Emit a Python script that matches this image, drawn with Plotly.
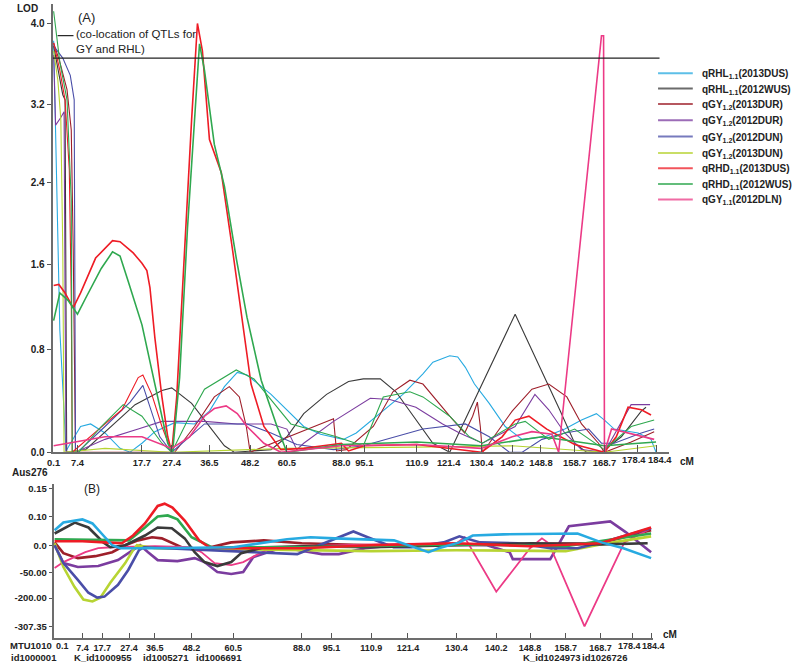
import numpy as np
import plotly.graph_objects as go

W, H = 796, 670
FONT = "Arial, Liberation Sans, sans-serif"

# ---------------- data ----------------
TICK_CM = [0.1, 7.4, 17.7, 27.4, 36.5, 48.2, 60.5, 88.0, 95.1, 110.9, 121.4,
           130.4, 140.2, 148.8, 158.7, 168.7, 178.4, 184.4]
TICK_LABELS = [f"{v:.1f}" for v in TICK_CM]
LOD_TICKS = [0.0, 0.8, 1.6, 2.4, 3.2, 4.0]
EFF_TICKS = [-307.35, -200.0, -50.0, 0.0, 0.10, 0.15]
EFF_LABELS = ["-307.35", "-200.00", "-50.00", "0.0", "0.10", "0.15"]
THRESHOLD_LOD = 3.66

SERIES = [
    ("qRHL", "1.1", "2013DUS"), ("qRHL", "1.1", "2012WUS"), ("qGY", "1.2", "2013DUR"),
    ("qGY", "1.2", "2012DUR"), ("qGY", "1.2", "2012DUN"), ("qGY", "1.2", "2013DUN"),
    ("qRHD", "1.1", "2013DUS"), ("qRHD", "1.1", "2012WUS"), ("qGY", "1.1", "2012DLN"),
]

# Panel A: LOD profiles
lb_a_cm = [0.1, 0.7, 1.4, 2.0, 2.9, 3.9, 5.5, 7.9, 9.5, 11.8, 14.2, 15.8, 17.7, 21.9, 28.1, 32.9, 36.5, 40.8, 44.5, 47.3,
           55.2, 60.5, 69.0, 77.5, 88.6, 92.6, 98.7, 106.7, 112.9, 116.2, 121.7, 123.9, 126.0, 128.5, 132.9, 138.0, 143.2,
           150.0, 155.8, 161.0, 166.0, 168.7, 171.6, 178.7, 182.8, 184.4]
lb_a_lod = [3.83, 2.97, 1.92, 0.98, 0.51, 0.01, 0.08, 0.20, 0.22, 0.15, 0.03, 0.0, 0.07, 0.16, 0.23, 0.22, 0.32, 0.51, 0.62, 0.60,
            0.45, 0.33, 0.20, 0.14, 0.10, 0.15, 0.28, 0.45, 0.61, 0.70, 0.75, 0.74, 0.66, 0.53, 0.38, 0.20, 0.10,
            0.12, 0.18, 0.25, 0.30, 0.25, 0.18, 0.15, 0.10, 0.0]

bk_a_cm = [0.1, 1.4, 2.9, 3.6, 4.1, 8.7, 11.8, 16.6, 24.2, 27.4, 32.2, 37.1, 40.8, 43.6, 55.2, 60.5, 69.0, 80.5, 90.2, 94.8,
           99.9, 104.6, 110.6, 116.2, 121.7, 141.1, 154.3, 158.7, 162.7, 167.7, 173.7, 179.7, 181.2]
bk_a_lod = [3.78, 3.56, 3.30, 3.25, 0.0, 0.02, 0.16, 0.37, 0.48, 0.50, 0.38, 0.18, 0.05, 0.0, 0.02, 0.12, 0.30, 0.45, 0.55, 0.57,
            0.57, 0.47, 0.25, 0.07, 0.0, 1.13, 0.33, 0.07, 0.0, 0.0, 0.12, 0.32, 0.35]

mr_a_cm = [0.1, 2.0, 4.2, 5.5, 6.1, 6.8, 28.1, 32.9, 37.9, 42.2, 45.1, 47.1, 48.2, 84.0, 85.5, 89.5, 97.8, 103.7, 108.8, 112.9,
           121.7, 125.8, 128.0, 129.3, 130.1, 130.7, 132.9, 140.2, 146.1, 151.1, 156.4, 161.0, 166.7, 168.7, 176.6, 183.8]
mr_a_lod = [3.81, 3.62, 3.35, 2.94, 1.75, 0.0, 0.0, 0.20, 0.43, 0.51, 0.43, 0.20, 0.0, 0.26, 0.01, 0.02, 0.20, 0.47, 0.56, 0.53,
            0.28, 0.15, 0.28, 0.39, 0.20, 0.0, 0.07, 0.32, 0.49, 0.53, 0.43, 0.22, 0.07, 0.0, 0.08, 0.16]

pu_a_cm = [0.1, 0.7, 2.3, 3.3, 3.6, 3.9, 6.8, 11.8, 17.1, 24.2, 35.3, 44.5, 55.2, 60.5, 65.5, 69.0, 84.0, 96.9, 102.8, 110.6,
           119.4, 124.4, 130.7, 141.1, 147.0, 151.1, 155.8, 161.0, 168.7, 176.6, 182.5]
pu_a_lod = [3.69, 2.99, 3.07, 3.13, 1.28, 0.0, 0.0, 0.10, 0.18, 0.24, 0.24, 0.22, 0.22, 0.18, 0.02, 0.07, 0.24, 0.42, 0.41, 0.35,
            0.22, 0.15, 0.07, 0.20, 0.45, 0.33, 0.15, 0.02, 0.0, 0.37, 0.37]

bl_a_cm = [0.1, 2.9, 5.2, 6.4, 6.8, 7.4, 11.8, 15.8, 18.0, 20.3, 23.5, 27.4, 31.7, 35.3, 47.3, 55.2, 65.5, 84.0, 94.8, 112.9,
           126.0, 132.9, 139.3, 143.2, 149.1, 155.8, 163.4, 167.7, 171.6, 179.7, 183.8]
bl_a_lod = [3.78, 3.66, 3.49, 3.25, 0.0, 0.0, 0.20, 0.39, 0.52, 0.35, 0.12, 0.0, 0.12, 0.22, 0.22, 0.15, 0.06, 0.02, 0.05, 0.18,
            0.22, 0.12, 0.0, 0.0, 0.10, 0.15, 0.18, 0.07, 0.07, 0.15, 0.18]

yg_a_cm = [0.1, 1.4, 2.3, 2.9, 3.3, 11.8, 27.4, 60.5, 110.9, 140.2, 168.7, 184.4]
yg_a_lod = [3.73, 3.44, 3.05, 1.75, 0.0, 0.03, 0.0, 0.03, 0.04, 0.05, 0.0, 0.05]

rd_a_cm = [0.1, 1.7, 3.6, 6.1, 7.9, 10.3, 13.0, 14.2, 16.3, 17.7, 19.3, 20.3, 21.9, 24.2, 26.1, 27.4, 28.6, 30.5, 32.2, 33.6,
           34.8, 36.5, 39.9, 43.1, 45.9, 48.5, 52.8, 58.5, 69.0, 88.0, 90.2, 95.1, 110.9, 130.4, 137.0, 141.1, 145.2, 150.5,
           158.7, 168.7, 172.2, 175.7, 179.7, 182.8]
rd_a_lod = [1.40, 1.41, 1.33, 1.19, 1.33, 1.66, 1.83, 1.82, 1.71, 1.61, 1.54, 1.38, 0.91, 0.43, 0.12, 0.0, 0.43, 1.75, 3.05, 4.00,
            3.73, 2.84, 2.50, 1.75, 1.10, 0.53, 0.20, 0.02, 0.03, 0.07, 0.01, 0.05, 0.06, 0.0, 0.12, 0.25, 0.28, 0.18,
            0.06, 0.0, 0.12, 0.35, 0.33, 0.29]
rd2_a_cm = [0.1, 2.0, 3.6, 4.9, 5.5, 5.8, 11.8, 14.5, 17.1, 18.0, 20.9, 24.2, 27.4]
rd2_a_lod = [3.81, 3.54, 3.25, 2.53, 1.28, 0.0, 0.22, 0.33, 0.58, 0.60, 0.45, 0.20, 0.0]

gr_a_cm = [0.1, 2.0, 4.5, 7.4, 8.7, 11.2, 13.0, 14.2, 15.5, 17.7, 21.9, 26.1, 27.6, 29.3, 31.2, 32.9, 34.1, 35.3, 37.9, 40.8,
           44.2, 47.3, 51.9, 57.2, 60.5, 88.0, 110.9, 130.4, 149.1, 168.7, 184.4]
gr_a_lod = [1.07, 1.33, 1.26, 1.13, 1.28, 1.56, 1.72, 1.68, 1.44, 1.03, 0.53, 0.07, 0.0, 0.58, 1.95, 3.05, 3.80, 3.54, 2.79, 2.36,
            1.66, 1.10, 0.56, 0.20, 0.0, 0.06, 0.08, 0.05, 0.12, 0.05, 0.08]
gr2_a_cm = [0.1, 2.0, 4.2, 5.5, 5.8, 7.6, 11.2, 14.7, 17.7, 24.2, 27.4, 31.7, 35.3, 44.2, 49.5, 55.2, 62.5, 85.5, 92.6, 94.8,
            100.8, 108.8, 112.9, 121.7, 127.1, 130.7, 141.1, 144.1, 151.1, 158.7, 168.7, 176.6, 183.8]
gr2_a_lod = [4.12, 3.62, 3.25, 2.23, 0.0, 0.0, 0.20, 0.37, 0.28, 0.07, 0.0, 0.28, 0.49, 0.64, 0.57, 0.41, 0.22, 0.12, 0.07, 0.05,
             0.43, 0.47, 0.43, 0.28, 0.12, 0.07, 0.22, 0.24, 0.10, 0.18, 0.02, 0.20, 0.25]

pk_a_cm = [0.1, 7.4, 11.8, 17.7, 27.4, 31.7, 35.3, 37.9, 41.3, 44.5, 47.3, 52.8, 58.5, 88.0, 110.9, 130.4, 140.2, 146.1, 152.0,
           154.0, 158.7, 164.4, 167.7, 168.4, 168.7, 170.8, 175.8, 183.8]
pk_a_lod = [0.05, 0.08, 0.12, 0.12, 0.03, 0.12, 0.28, 0.34, 0.36, 0.30, 0.20, 0.07, 0.0, 0.05, 0.06, 0.03, 0.12, 0.16, 0.14,
            0.0, 1.28, 2.94, 3.88, 3.88, 0.0, 0.18, 0.15, 0.10]

# Panel B: additive effects
lb_b_cm = [0.1, 2.4, 7.4, 12.6, 18.1, 21.3, 24.1, 36.5, 60.5, 82.1, 90.1, 96.2, 117.4, 122.8, 125.2, 127.1, 131.1, 134.4,
           142.0, 162.1, 169.0, 175.7, 184.4]
lb_b_eff = [0.052, 0.079, 0.09, 0.076, 0.034, 0.0, -5.4, -5.4, -3.6, 0.021, 0.028, 0.024, 0.017, -5.4, -12.6, -5.4, 0.01,
            0.034, 0.038, 0.041, 0.01, -5.4, -23.5]
bk_b_cm = [0.1, 5.4, 10.5, 18.1, 20.6, 26.0, 33.0, 37.4, 41.9, 46.0, 49.1, 52.0, 55.8, 59.9, 63.7, 72.8, 88.6, 110.9, 130.4,
           149.3, 169.0, 183.3]
bk_b_eff = [0.041, 0.079, 0.062, 0.01, -3.6, 0.0, 0.034, 0.062, 0.059, 0.024, -12.6, -30.7, -37.9, -30.7, -14.4, -3.6, -1.8,
            -3.6, 0.0, 0.007, 0.003, 0.007]
mr_b_cm = [0.1, 2.4, 6.2, 14.1, 21.3, 26.0, 30.6, 35.5, 38.7, 41.8, 45.0, 50.0, 59.9, 72.8, 88.0, 110.9, 130.4, 148.8, 168.7, 184.4]
mr_b_eff = [0.01, -14.4, -23.5, -19.9, -12.6, 0.0, 0.017, 0.028, 0.024, 0.01, -3.6, -9.0, 0.01, 0.017, 0.007, 0.0, 0.003, 0.007,
            0.007, 0.052]
pu_b_cm = [0.1, 2.4, 6.2, 15.6, 23.4, 28.5, 31.3, 34.1, 37.4, 43.7, 49.1, 52.0, 55.8, 59.9, 64.5, 68.5, 80.4, 88.6, 92.8, 98.0,
           108.5, 120.0, 137.9, 143.6, 144.4, 154.4, 158.1, 159.6, 171.7, 176.5, 184.4]
pu_b_eff = [0.0, -32.5, -39.7, -37.9, -27.1, -9.0, 0.0, -12.6, -27.1, -28.9, -23.5, -30.7, -48.7, -57.6, -48.7, -21.7, -3.6,
            -10.8, -16.2, -16.2, -5.4, 0.003, 0.0, -12.6, -25.3, -25.3, 0.034, 0.066, 0.083, 0.045, -12.6]
bl_b_cm = [0.1, 2.4, 6.2, 10.5, 15.1, 18.5, 23.4, 27.1, 30.9, 32.7, 68.5, 86.2, 93.3, 103.8, 109.5, 117.3, 122.1, 128.0, 131.1,
           136.2, 145.6, 154.4, 162.1, 169.0, 184.4]
bl_b_eff = [0.0, -32.5, -92.8, -169.0, -198.0, -192.0, -122.0, -45.1, -9.0, -3.6, -12.6, -16.2, 0.007, 0.048, 0.028, -3.6, -3.6,
            0.01, 0.031, 0.01, 0.007, -5.4, -5.4, 0.01, 0.059]
yg_b_cm = [0.1, 2.4, 5.3, 7.9, 12.6, 16.7, 20.6, 26.0, 28.8, 30.2, 36.5, 88.0, 110.9, 130.4, 148.8, 158.7, 168.7, 184.4]
yg_b_eff = [0.007, -39.7, -133.8, -206.0, -213.0, -198.0, -110.0, -32.5, -9.0, 0.0, -5.4, -9.0, -10.8, -9.0, -10.8, -10.8,
            0.003, 0.031]
rd_b_cm = [0.1, 7.4, 18.8, 24.8, 28.8, 33.0, 37.4, 39.6, 42.1, 46.0, 50.4, 53.4, 60.5, 88.0, 110.9, 130.4, 148.8, 168.7, 184.4]
rd_b_eff = [0.014, 0.014, 0.01, 0.007, 0.034, 0.076, 0.119, 0.123, 0.116, 0.086, 0.017, -3.6, -5.4, -5.4, 0.0, 0.007, -1.8,
            0.007, 0.062]
gr_b_cm = [0.1, 27.4, 33.0, 37.4, 40.6, 43.7, 48.2, 51.1, 54.1, 88.0, 130.4, 158.7, 184.4]
gr_b_eff = [0.021, 0.017, 0.062, 0.10, 0.102, 0.09, 0.028, 0.01, -3.6, -3.6, 0.003, -1.8, 0.041]
pk_b_cm = [0.1, 2.4, 8.9, 15.6, 21.3, 36.5, 48.2, 51.1, 55.0, 59.9, 64.5, 69.7, 76.4, 110.9, 130.4, 132.4, 140.2, 148.8,
           152.1, 154.0, 164.1, 176.0, 184.4]
pk_b_eff = [-41.5, -30.7, -12.6, -5.4, -3.6, -1.8, -3.6, -12.6, -32.5, -36.1, -30.7, -18.1, -3.6, 0.003, 0.007, 0.028, -163.0,
            -5.4, 0.024, 0.007, -307.35, 0.01, 0.059]

MARKERS_LEFT = "MTU1010"
MARKER_NAMES = ["id1000001", "K_id1000955", "id1005271", "id1006691", "K_id1024973", "id1026726"]

# ---------------- layout / scales ----------------
POS_A = [48, 72, 137, 167, 205, 246, 283, 338, 361, 414, 446, 479, 510, 539, 573, 603, 636, 655]
POS_B = [49, 77, 97, 124, 150, 187, 229, 298, 328, 368, 405, 454, 494, 528, 564, 599, 631, 650]
LOD_PIX = [456, 352, 266, 183, 105, 22.7]
EFF_PIX = [632, 603.3, 577.7, 550, 521, 492.7]
# labels that the original nudges sideways because they are crowded: (tick index, x offset in px)
NUDGE_A = {16: -3, 17: 4}
NUDGE_B = {0: 8, 16: -3, 17: 2}

COLORS = ["#27aae1", "#3a3a3a", "#9e1f2a", "#7b3c9f", "#4a4ea8", "#b7d433", "#ee1c25", "#2fa84f", "#ec3a86"]


def warp(v, src, dst):
    v = np.asarray(v, float)
    src = np.asarray(src, float)
    dst = np.asarray(dst, float)
    out = np.interp(v, src, dst)
    lo, hi = v < src[0], v > src[-1]
    out[lo] = dst[0] + (v[lo] - src[0]) * (dst[1] - dst[0]) / (src[1] - src[0])
    out[hi] = dst[-1] + (v[hi] - src[-1]) * (dst[-1] - dst[-2]) / (src[-1] - src[-2])
    return out


def fx(x):
    return x / W


def fy(y):
    return 1 - y / H


def name_of(s):
    base, sub, env = s
    return f"<b>{base}<sub>{sub}</sub>({env})</b>"


fig = go.Figure()

panel_a = [
    (0, [(lb_a_cm, lb_a_lod)]),
    (1, [(bk_a_cm, bk_a_lod)]),
    (2, [(mr_a_cm, mr_a_lod)]),
    (3, [(pu_a_cm, pu_a_lod)]),
    (4, [(bl_a_cm, bl_a_lod)]),
    (5, [(yg_a_cm, yg_a_lod)]),
    (6, [(rd_a_cm, rd_a_lod), (rd2_a_cm, rd2_a_lod)]),
    (7, [(gr_a_cm, gr_a_lod), (gr2_a_cm, gr2_a_lod)]),
    (8, [(pk_a_cm, pk_a_lod)]),
]
for idx, curves in panel_a:
    for k, (cm, lod) in enumerate(curves):
        width = 1.6 if idx in (6, 7, 8) and k == 0 else 1.1
        fig.add_trace(go.Scatter(
            x=warp(cm, TICK_CM, POS_A), y=warp(lod, LOD_TICKS, LOD_PIX),
            mode="lines", line=dict(color=COLORS[idx], width=width),
            name=name_of(SERIES[idx]), legendgroup=str(idx), showlegend=False,
            xaxis="x", yaxis="y", hoverinfo="skip"))

panel_b = [
    (3, pu_b_cm, pu_b_eff), (2, mr_b_cm, mr_b_eff), (8, pk_b_cm, pk_b_eff),
    (5, yg_b_cm, yg_b_eff), (4, bl_b_cm, bl_b_eff), (1, bk_b_cm, bk_b_eff),
    (7, gr_b_cm, gr_b_eff), (6, rd_b_cm, rd_b_eff), (0, lb_b_cm, lb_b_eff),
]
for idx, cm, eff in panel_b:
    fig.add_trace(go.Scatter(
        x=warp(cm, TICK_CM, POS_B), y=warp(eff, EFF_TICKS, EFF_PIX),
        mode="lines", line=dict(color=COLORS[idx], width=2.6 if idx != 8 else 1.8),
        name=name_of(SERIES[idx]), legendgroup=str(idx), showlegend=False,
        xaxis="x2", yaxis="y2", hoverinfo="skip"))

axis_common = dict(showline=True, linecolor="#6d6d6d", linewidth=2, showgrid=False, zeroline=False,
                   tickcolor="#555", fixedrange=True, tickangle=0)
font_a = dict(family=FONT, size=9.4, color="#222", weight="bold")
font_b = dict(family=FONT, size=9, color="#222", weight="bold")
ticktext_a = ["" if i in NUDGE_A else t for i, t in enumerate(TICK_LABELS)]
ticktext_b = ["" if i in NUDGE_B else t for i, t in enumerate(TICK_LABELS)]

fig.update_layout(
    width=W, height=H, autosize=False,
    margin=dict(l=0, r=0, t=0, b=0),
    paper_bgcolor="white", plot_bgcolor="white",
    font=dict(family=FONT, color="#222"),
    xaxis=dict(domain=[fx(47), fx(668)], range=[47, 668], anchor="y",
               tickmode="array", tickvals=POS_A, ticktext=ticktext_a,
               ticks="inside", ticklen=7, tickfont=font_a, **axis_common),
    yaxis=dict(domain=[fy(456), fy(3)], range=[456, 3], anchor="x",
               tickmode="array", tickvals=LOD_PIX, ticktext=[f"{v:.1f}" for v in LOD_TICKS],
               ticks="outside", ticklen=4, tickfont=dict(font_a, size=10), **axis_common),
    xaxis2=dict(domain=[fx(48), fx(652)], range=[48, 652], anchor="y2",
                tickmode="array", tickvals=POS_B, ticktext=ticktext_b,
                ticks="inside", ticklen=5, tickfont=font_b, **axis_common),
    yaxis2=dict(domain=[fy(644), fy(488)], range=[644, 488], anchor="x2",
                tickmode="array", tickvals=EFF_PIX, ticktext=EFF_LABELS,
                ticks="outside", ticklen=3, tickfont=dict(font_b, size=9.5), **axis_common),
    showlegend=False,
)

# crowded tick labels, placed beside their ticks
for i, dx in NUDGE_A.items():
    fig.add_annotation(text=f"<b>{TICK_LABELS[i]}</b>", x=POS_A[i] + dx, y=fy(463.5), xref="x", yref="paper",
                       showarrow=False, xanchor="center", yanchor="middle",
                       font=dict(family=FONT, size=9.4, color="#222"))
for i, dx in NUDGE_B.items():
    fig.add_annotation(text=f"<b>{TICK_LABELS[i]}</b>", x=POS_B[i] + dx, y=fy(651.5), xref="x2", yref="paper",
                       showarrow=False, xanchor="center", yanchor="middle",
                       font=dict(family=FONT, size=9, color="#222"))

thr_y = float(warp([THRESHOLD_LOD], LOD_TICKS, LOD_PIX)[0])
thr_x1 = float(warp([185.5], TICK_CM, POS_A)[0])
fig.add_shape(type="line", xref="x", yref="y", x0=47, x1=thr_x1, y0=thr_y, y1=thr_y,
              line=dict(color="#222", width=1.2))
fig.add_shape(type="line", xref="paper", yref="paper", x0=fx(52), x1=fx(68), y0=fy(35), y1=fy(35),
              line=dict(color="#222", width=1.2))


def ann(text, x, y, size=10, bold=True, xanchor="left", yanchor="middle"):
    fig.add_annotation(text=f"<b>{text}</b>" if bold else text, x=fx(x), y=fy(y), xref="paper", yref="paper",
                       showarrow=False, xanchor=xanchor, yanchor=yanchor, align="left",
                       font=dict(family=FONT, size=size, color="#222"))


# legend (drawn as key lines + labels to match the compact spacing of the original)
LEG_Y = [73, 88.5, 104, 120.5, 137, 153.5, 169, 185, 200.5]
for i, s in enumerate(SERIES):
    fig.add_shape(type="line", xref="paper", yref="paper", x0=fx(657), x1=fx(692),
                  y0=fy(LEG_Y[i]), y1=fy(LEG_Y[i]),
                  line=dict(color=COLORS[i], width=2), opacity=0.75)
    ann(f"{s[0]}<sub>{s[1]}</sub>({s[2]})", 699, LEG_Y[i] + 1, size=10)

ann("LOD", 9, 8)
ann("(A)", 71, 17, size=13, bold=False)
ann("(co-location of QTLs for<br>GY and RHL)", 69, 41, size=11.5, bold=False)
ann("cM", 677, 465)
ann("Aus276", 4, 476)
ann("(B)", 77, 493, size=12, bold=False)
ann("cM", 660, 640)
ann(MARKERS_LEFT, 2, 651, size=9.5)
marker_x = [3, 67, 136, 189, 519, 578]
for name, x in zip(MARKER_NAMES, marker_x):
    ann(name, x, 663, size=9.5)

fig.write_html("out.html", include_plotlyjs=True, config={"displayModeBar": False},
               post_script="document.body.style.margin='0';document.body.style.overflow='hidden';")
